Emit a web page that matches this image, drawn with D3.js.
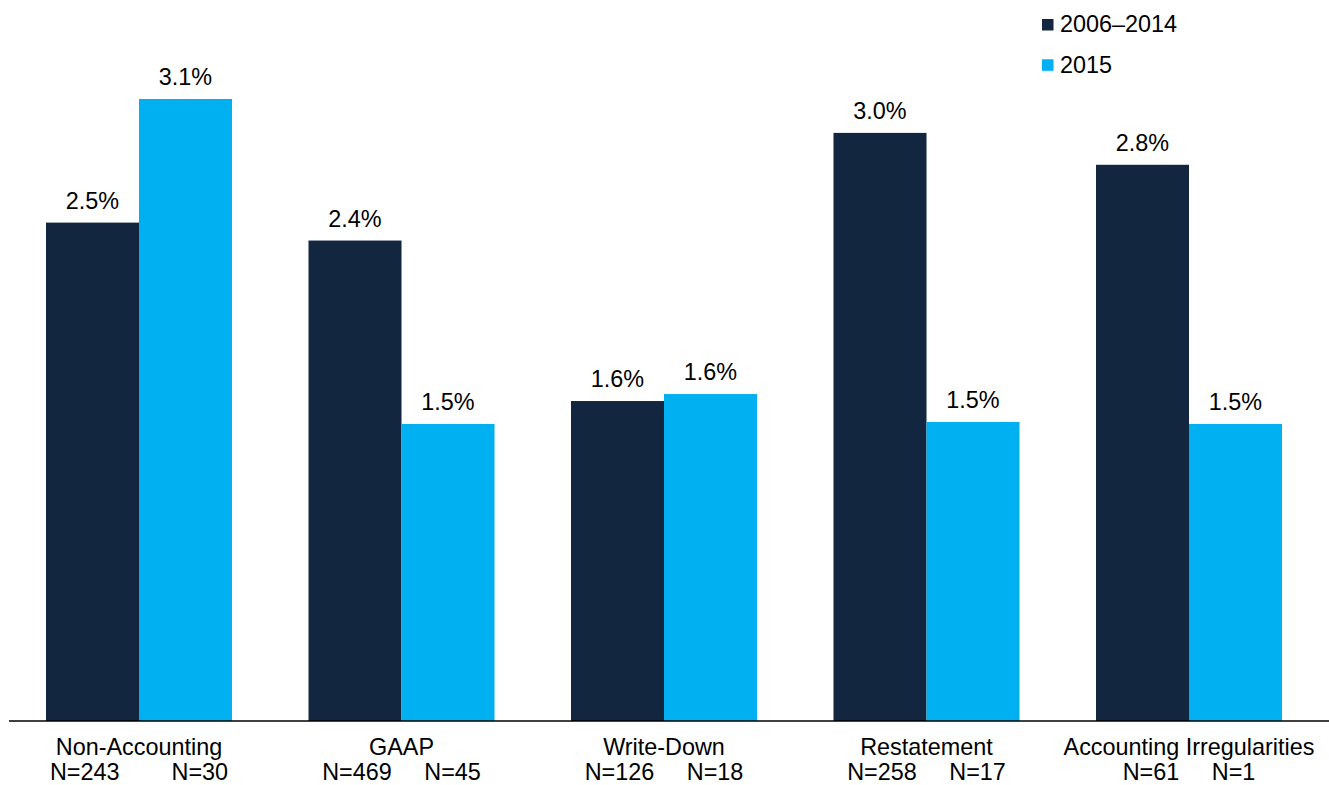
<!DOCTYPE html>
<html>
<head>
<meta charset="utf-8">
<script src="https://cdn.jsdelivr.net/npm/d3@7"></script>
<style>
  html, body { margin: 0; padding: 0; background: #fff; }
  svg { display: block; font-family: "Liberation Sans", Arial, sans-serif; }
</style>
</head>
<body>
<svg id="chart" width="1329" height="785"></svg>
<script>
// ---- data ----
const categories = ["Non-Accounting", "GAAP", "Write-Down", "Restatement", "Accounting Irregularities"];
const seriesNames = ["2006\u20132014", "2015"];
const values2006_2014 = [2.50, 2.41, 1.605, 2.95, 2.79];
const values2015 = [3.12, 1.49, 1.64, 1.50, 1.49];
const labels2006_2014 = ["2.5%", "2.4%", "1.6%", "3.0%", "2.8%"];
const labels2015 = ["3.1%", "1.5%", "1.6%", "1.5%", "1.5%"];
const countLabels = [
  "N=243        N=30",
  "N=469     N=45",
  "N=126     N=18",
  "N=258     N=17",
  "N=61     N=1"
];

// ---- layout ----
const W = 1329, H = 785;
const baseline = 721;
const colors = ["#13263f", "#00b0f0"];
const fontSize = 23.4;

const svg = d3.select("#chart");

const x0 = d3.scaleBand()
  .domain(categories)
  .range([7.75, 1320.25])
  .paddingInner(0.2914)
  .paddingOuter(0.1457);

const x1 = d3.scaleBand()
  .domain(seriesNames)
  .range([0, x0.bandwidth()]);

const y = d3.scaleLinear()
  .domain([0, 3.12])
  .range([baseline, 99]);

const color = d3.scaleOrdinal().domain(seriesNames).range(colors);

const rows = categories.map((c, i) => ({
  cat: c,
  items: [
    { s: seriesNames[0], v: values2006_2014[i], lbl: labels2006_2014[i] },
    { s: seriesNames[1], v: values2015[i], lbl: labels2015[i] }
  ]
}));

const g = svg.append("g");
const groups = g.selectAll("g.grp").data(rows).join("g")
  .attr("class", "grp")
  .attr("transform", d => `translate(${x0(d.cat)},0)`);

groups.selectAll("rect").data(d => d.items).join("rect")
  .attr("x", d => x1(d.s))
  .attr("width", x1.bandwidth())
  .attr("y", d => y(d.v))
  .attr("height", d => baseline - y(d.v))
  .attr("fill", d => color(d.s));

groups.selectAll("text.val").data(d => d.items).join("text")
  .attr("class", "val")
  .attr("x", d => x1(d.s) + x1.bandwidth() / 2)
  .attr("y", d => y(d.v) - 14)
  .attr("text-anchor", "middle")
  .attr("font-size", fontSize)
  .attr("fill", "#000")
  .text(d => d.lbl);

// axis baseline
const xAxis = d3.axisBottom(x0).tickSize(0).tickFormat("");
const axisG = svg.append("g").attr("transform", `translate(0,${baseline})`).call(xAxis);
axisG.select(".domain").remove();
svg.append("line")
  .attr("x1", 9).attr("x2", W)
  .attr("y1", baseline).attr("y2", baseline)
  .attr("stroke", "#000").attr("stroke-width", 1.5);

// category labels
axisG.selectAll("g.tick").each(function(d, i) {
  const t = d3.select(this);
  t.append("text")
    .attr("y", 34)
    .attr("text-anchor", "middle")
    .attr("font-size", fontSize)
    .attr("fill", "#000")
    .text(d);
  t.append("text")
    .attr("y", 58.5)
    .attr("text-anchor", "middle")
    .attr("font-size", fontSize)
    .attr("fill", "#000")
    .style("white-space", "pre")
    .attr("xml:space", "preserve")
    .text(countLabels[i]);
});

// legend
const legend = svg.append("g").attr("transform", "translate(1042,0)");
seriesNames.forEach((s, i) => {
  const ly = 19 + i * 40.3;
  legend.append("rect")
    .attr("x", 0).attr("y", ly)
    .attr("width", 11.5).attr("height", 11.5)
    .attr("fill", color(s));
  legend.append("text")
    .attr("x", 18).attr("y", ly + 13.3)
    .attr("font-size", fontSize)
    .attr("fill", "#000")
    .text(s);
});
</script>
</body>
</html>
